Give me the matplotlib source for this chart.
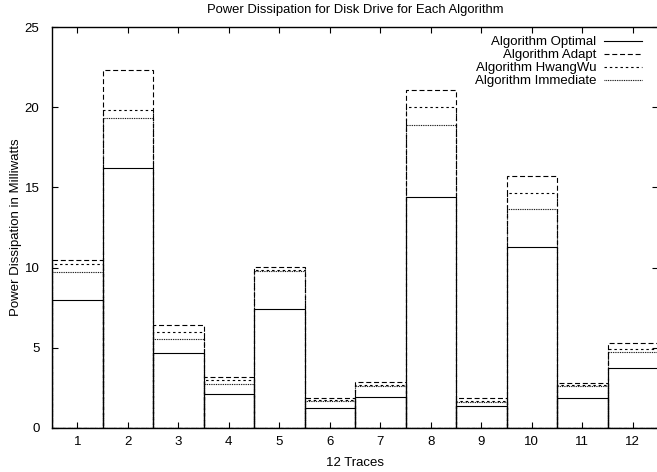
import numpy as np
import matplotlib
matplotlib.use('Agg')
from matplotlib import pyplot as plt
from matplotlib.lines import Line2D

### DATA
traces = list(range(1, 13))
optimal = [8.0, 16.2, 4.65, 2.15, 7.45, 1.25, 1.95, 14.4, 1.35, 11.3, 1.85, 3.75]
adapt = [10.5, 22.3, 6.45, 3.15, 10.05, 1.85, 2.85, 21.1, 1.85, 15.7, 2.8, 5.3]
hwangwu = [10.25, 19.8, 6.0, 3.0, 9.85, 1.75, 2.7, 20.0, 1.7, 14.65, 2.65, 4.9]
immediate = [9.75, 19.3, 5.55, 2.75, 9.8, 1.7, 2.6, 18.9, 1.6, 13.65, 2.6, 4.75]

series = [
    ('Algorithm Optimal', optimal, '-'),
    ('Algorithm Adapt', adapt, (0, (4.5, 2.5))),
    ('Algorithm HwangWu', hwangwu, (0, (2.2, 2.6))),
    ('Algorithm Immediate', immediate, (0, (0.8, 0.8))),
]

### STYLE
plt.rcParams['font.family'] = ['Liberation Sans', 'DejaVu Sans']
plt.rcParams['font.size'] = 9.5

fig = plt.figure(figsize=(6.57, 4.72), dpi=100)
ax = fig.add_axes([52 / 657, 44 / 472, 606 / 657, 401 / 472])

handles = []
for label, vals, ls in series:
    ax.bar(traces, vals, width=1.0, fill=False, edgecolor='black',
           linestyle=ls, linewidth=0.8)
    handles.append(Line2D([], [], color='black', linestyle=ls, linewidth=0.8, label=label))

ax.set_xlim(0.5, 12.5)
ax.set_ylim(0, 25)
ax.set_xticks(traces)
ax.set_yticks(np.arange(0, 26, 5))
ax.tick_params(direction='in', top=True, right=True, length=4, width=0.8, pad=6)
ax.tick_params(axis='y', pad=9)
for sp in ax.spines.values():
    sp.set_linewidth(1.0)

ax.set_title('Power Dissipation for Disk Drive for Each Algorithm', fontsize=9.4, pad=10)
ax.set_xlabel('12 Traces', labelpad=6)
ax.set_ylabel('Power Dissipation in Milliwatts', labelpad=2)

ax.legend(handles=handles, loc='upper right', bbox_to_anchor=(0.9894, 1.0), frameon=False,
          markerfirst=False, handlelength=2.9, handletextpad=0.6,
          labelspacing=0.05, borderpad=0.2)

plt.savefig('out.png', dpi=100)
